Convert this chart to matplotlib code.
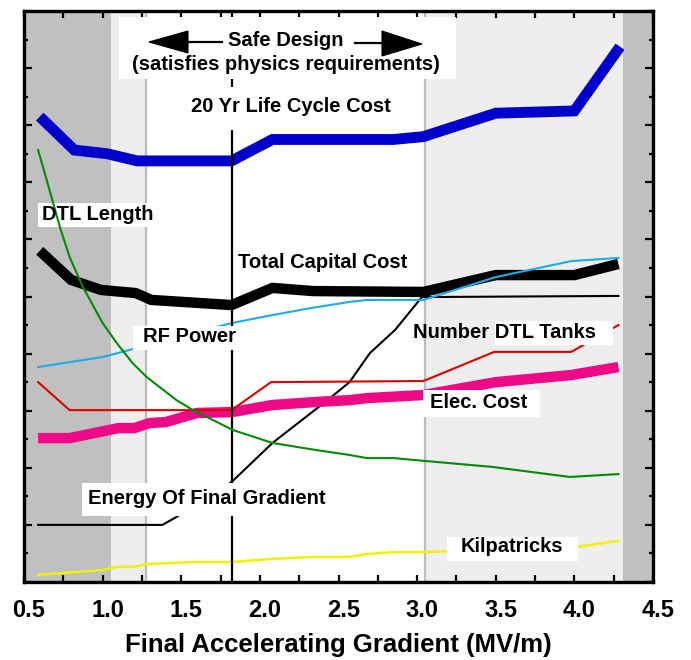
import matplotlib
matplotlib.use('Agg')
import matplotlib.pyplot as plt
from matplotlib.patches import Rectangle, Polygon
from matplotlib.ticker import MultipleLocator
import matplotlib.transforms as mtransforms

plt.rcParams['font.family'] = ['Liberation Sans', 'DejaVu Sans']

# ---------------- data ----------------
life_x = [0.6, 0.82, 1.03, 1.22, 1.82, 2.08, 2.85, 3.04, 3.5, 4.0, 4.29]
life_y = [16.3, 15.13, 15.0, 14.75, 14.75, 15.5, 15.5, 15.6, 16.42, 16.5, 18.75]

cap_x = [0.6, 0.8, 0.99, 1.21, 1.31, 1.82, 2.08, 2.34, 3.04, 3.5, 4.0, 4.28]
cap_y = [11.6, 10.58, 10.23, 10.12, 9.88, 9.70, 10.30, 10.19, 10.16, 10.75, 10.75, 11.14]

dtl_x = [0.59, 0.68, 0.73, 0.79, 0.875, 1.0, 1.09, 1.19, 1.28, 1.47, 1.575, 1.83,
         2.08, 2.36, 2.57, 2.68, 2.85, 3.05, 3.48, 3.97, 4.28]
dtl_y = [15.13, 13.38, 12.40, 11.38, 10.33, 9.07, 8.37, 7.67, 7.18, 6.37, 6.02, 5.32,
         4.87, 4.62, 4.45, 4.34, 4.34, 4.24, 4.03, 3.68, 3.78]

rf_x = [0.59, 1.0, 1.82, 2.08, 2.33, 2.57, 2.68, 3.04, 3.5, 3.98, 4.28]
rf_y = [7.53, 7.88, 9.07, 9.35, 9.60, 9.81, 9.88, 9.88, 10.68, 11.24, 11.35]

tanks_x = [0.59, 0.79, 1.82, 2.07, 3.04, 3.49, 3.98, 4.28]
tanks_y = [7.0, 6.02, 6.02, 7.0, 7.04, 8.06, 8.06, 9.0]

elec_x = [0.59, 0.79, 1.1, 1.2, 1.3, 1.4, 1.6, 1.82, 2.08, 2.34, 2.57, 2.68, 3.04,
          3.5, 3.98, 4.28]
elec_y = [5.04, 5.04, 5.39, 5.39, 5.57, 5.60, 5.92, 5.95, 6.20, 6.30, 6.37, 6.44, 6.55,
          7.0, 7.25, 7.53]

energy_x = [0.59, 1.38, 1.47, 1.82, 2.08, 2.43, 2.57, 2.70, 2.86, 3.03, 4.28]
energy_y = [2.0, 2.0, 2.28, 3.50, 4.87, 6.37, 7.0, 8.02, 8.83, 9.98, 10.02]

kil_x = [0.59, 1.0, 1.09, 1.2, 1.28, 1.58, 1.82, 2.08, 2.34, 2.57, 2.68, 2.85, 3.04,
         4.0, 4.28]
kil_y = [0.25, 0.42, 0.53, 0.53, 0.63, 0.70, 0.70, 0.81, 0.88, 0.88, 0.98, 1.05, 1.05,
         1.22, 1.44]

design_gradient = 1.82
zone_dark_left = (0.5, 1.053)
zone_light_left = (1.053, 1.276)
zone_light_right = (3.05, 4.31)
zone_dark_right = (4.31, 4.5)

xticks = [0.5, 1.0, 1.5, 2.0, 2.5, 3.0, 3.5, 4.0, 4.5]
xticklabels = ['0.5', '1.0', '1.5', '2.0', '2.5', '3.0', '3.5', '4.0', '4.5']

# ---------------- figure ----------------
W, H = 691, 660
fig = plt.figure(figsize=(W / 100, H / 100), dpi=100)
L, R, T, B = 24, 653, 11, 582
ax = fig.add_axes([L / W, 1 - B / H, (R - L) / W, (B - T) / H])
ax.set_xlim(0.5, 4.5)
ax.set_ylim(0, 20)


def px2d(px, py):
    return (0.5 + (px - L) / (R - L) * 4.0, (B - py) / (B - T) * 20.0)


def box(px0, px1, py0, py1, z=4):
    x0, y1 = px2d(px0, py0)
    x1, y0 = px2d(px1, py1)
    ax.add_patch(Rectangle((x0, y0), x1 - x0, y1 - y0, facecolor='white',
                           edgecolor='none', zorder=z))


def label(px, py, s, ha='left', fs=14.5):
    x, y = px2d(px, py)
    ax.text(x, y, s, ha=ha, va='center', fontsize=fs, fontweight='bold',
            color='black', zorder=6)


# background zones
ax.axvspan(*zone_dark_left, color='#c0c0c0', lw=0, zorder=0)
ax.axvspan(*zone_light_left, color='#eeeeee', lw=0, zorder=0)
ax.axvspan(*zone_light_right, color='#eeeeee', lw=0, zorder=0)
ax.axvspan(*zone_dark_right, color='#c0c0c0', lw=0, zorder=0)
ax.axvline(zone_light_left[1], color='#bcbcbc', lw=1.6, zorder=0.5)
ax.axvline(zone_light_right[0], color='#bcbcbc', lw=1.6, zorder=0.5)

thick = dict(solid_capstyle='butt', solid_joinstyle='miter')
ax.plot(life_x, life_y, color='#0000cc', lw=7.8, zorder=2, **thick)
ax.plot(cap_x, cap_y, color='black', lw=7.5, zorder=2, **thick)
ax.plot(elec_x, elec_y, color='#ee0a86', lw=7.5, zorder=2, **thick)

ax.plot(energy_x, energy_y, color='black', lw=1.5, zorder=1.8)
ax.plot(rf_x, rf_y, color='#19aeea', lw=1.5, zorder=3)
ax.plot(tanks_x, tanks_y, color='#e00000', lw=1.5, zorder=3)
ax.plot(kil_x, kil_y, color='#f2f200', lw=1.8, zorder=3)
ax.plot(dtl_x, dtl_y, color='#058a05', lw=1.5, zorder=4.5)

ax.axvline(design_gradient, color='black', lw=1.6, zorder=3.5)

# ---------------- annotations ----------------
box(119, 456, 17, 79)
label(286, 40, 'Safe Design', ha='center')
label(286, 65, '(satisfies physics requirements)', ha='center')
# arrows
p = [px2d(149, 42), px2d(188, 31), px2d(188, 53)]
ax.add_patch(Polygon(p, closed=True, facecolor='black', edgecolor='black', lw=0.8, zorder=6))
p = [px2d(422, 44), px2d(382, 31), px2d(382, 56)]
ax.add_patch(Polygon(p, closed=True, facecolor='black', edgecolor='black', lw=0.8, zorder=6))
a0, a1 = px2d(188, 42), px2d(222, 42)
ax.plot([a0[0], a1[0]], [a0[1], a1[1]], color='black', lw=1.6, zorder=6)
a0, a1 = px2d(355, 43), px2d(382, 43)
ax.plot([a0[0], a1[0]], [a0[1], a1[1]], color='black', lw=1.6, zorder=6)

box(180, 400, 87, 130)
label(291, 106, '20 Yr Life Cycle Cost', ha='center')

box(38, 153, 203, 227)
label(42, 214, 'DTL Length')

label(238, 263, 'Total Capital Cost')

box(133, 237, 326, 350)
label(143, 336, 'RF Power')

box(495, 613, 321, 345)
label(413, 333, 'Number DTL Tanks')

box(423, 540, 390, 417)
label(430, 403, 'Elec. Cost')

box(82, 335, 483, 516)
label(88, 499, 'Energy Of Final Gradient')

box(447, 578, 537, 561)
label(512, 547, 'Kilpatricks', ha='center')

# ---------------- axes styling ----------------
ax.set_xticks(xticks)
ax.set_xticklabels(xticklabels)
ax.xaxis.set_minor_locator(MultipleLocator(0.25))
ax.yaxis.set_major_locator(MultipleLocator(2))
ax.yaxis.set_minor_locator(MultipleLocator(1))
ax.tick_params(axis='both', which='both', direction='in', top=True, right=True,
               width=1.6, color='black')
ax.tick_params(axis='x', which='major', length=5, pad=12, labelsize=17)
ax.tick_params(axis='x', which='minor', length=5)
ax.tick_params(axis='y', which='major', length=6, labelleft=False)
ax.tick_params(axis='y', which='minor', length=3)
for lab in ax.get_xticklabels():
    lab.set_fontweight('bold')
    lab.set_transform(lab.get_transform() +
                      mtransforms.ScaledTranslation(5 / 100, 0, fig.dpi_scale_trans))
for s in ax.spines.values():
    s.set_linewidth(2.4)
    s.set_zorder(10)

ax.set_xlabel('Final Accelerating Gradient (MV/m)', fontsize=18.5,
              fontweight='bold', labelpad=8)

fig.savefig('out.png', dpi=100)
